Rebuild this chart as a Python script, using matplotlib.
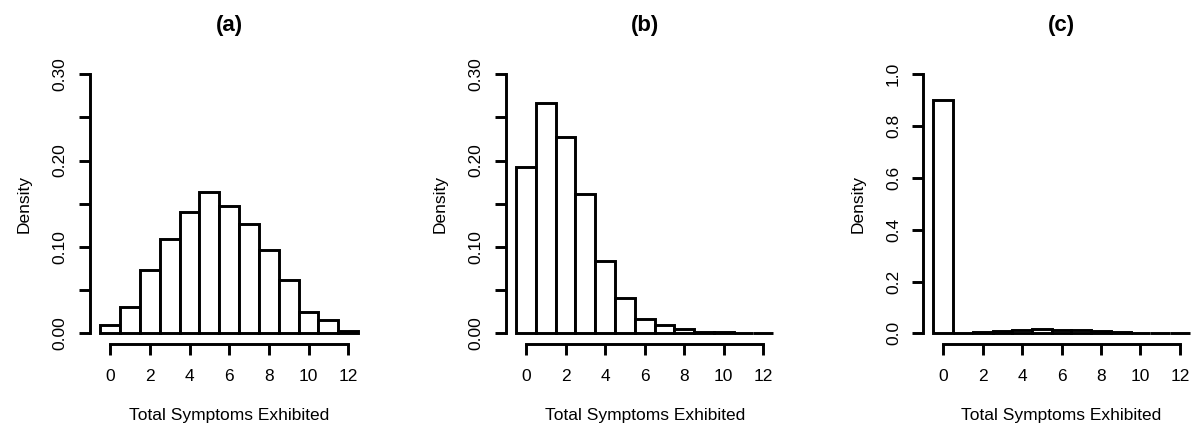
import matplotlib
matplotlib.use("Agg")
import matplotlib.pyplot as plt
import numpy as np

plt.rcParams['font.family'] = ['Liberation Sans', 'DejaVu Sans']

symptoms = list(range(13))  # bins centered on 0..12
density_a = [0.010, 0.031, 0.073, 0.109, 0.140, 0.164, 0.148, 0.127, 0.097, 0.062, 0.025, 0.015, 0.003]
density_b = [0.193, 0.267, 0.227, 0.161, 0.084, 0.041, 0.017, 0.010, 0.005, 0.0015, 0.001, 0.0004, 0.0002]
density_c = [0.899, 0.002, 0.004, 0.008, 0.012, 0.015, 0.014, 0.013, 0.010, 0.005, 0.002, 0.001, 0.0005]

titles = ["(a)", "(b)", "(c)"]
xlabel = "Total Symptoms Exhibited"
ylabel = "Density"
xticks = [0, 2, 4, 6, 8, 10, 12]
yticks_ab = [0.00, 0.05, 0.10, 0.15, 0.20, 0.25, 0.30]
ylabels_ab = ["0.00", "", "0.10", "", "0.20", "", "0.30"]
yticks_c = [0.0, 0.2, 0.4, 0.6, 0.8, 1.0]
ylabels_c = ["0.0", "0.2", "0.4", "0.6", "0.8", "1.0"]

W, H = 1193, 428
fig = plt.figure(figsize=(W / 100, H / 100), dpi=100)

lefts = [90, 505.8, 923.2]
widths = [278.4, 277.7, 276.8]
bottom_px = 343.7
top_px = 63.9

data = [density_a, density_b, density_c]
yt = [yticks_ab, yticks_ab, yticks_c]
yl = [ylabels_ab, ylabels_ab, ylabels_c]
ymax = [0.30, 0.30, 1.0]
lw = 2.1

for i in range(3):
    ax = fig.add_axes([lefts[i] / W, (H - bottom_px) / H, widths[i] / W, (bottom_px - top_px) / H])
    ax.bar(symptoms, data[i], width=1.0, align='center', facecolor='white',
           edgecolor='black', linewidth=lw)
    rng = 13.0
    ax.set_xlim(-0.5 - 0.04 * rng, 12.5 + 0.04 * rng)
    ax.set_ylim(-0.04 * ymax[i], ymax[i] * 1.04)
    for s in ['top', 'right']:
        ax.spines[s].set_visible(False)
    ax.spines['left'].set_bounds(0, ymax[i])
    ax.spines['bottom'].set_bounds(0, 12)
    ax.spines['left'].set_linewidth(lw)
    ax.spines['bottom'].set_linewidth(lw)
    ax.set_xticks(xticks)
    ax.set_xticklabels([str(t) for t in xticks])
    ax.set_yticks(yt[i])
    ax.set_yticklabels(yl[i], rotation=90, va='center')
    ax.tick_params(axis='both', direction='out', length=8, width=lw, labelsize=12.5)
    ax.tick_params(axis='x', pad=10.5)
    ax.tick_params(axis='y', pad=8)
    ax.set_xlabel(xlabel, fontsize=12.5, labelpad=17)
    ax.set_ylabel(ylabel, fontsize=12.5, labelpad=15)
    ax.set_title(titles[i], fontsize=16, fontweight='bold', pad=24)
    ax.patch.set_alpha(0)

fig.savefig("out.png", dpi=100, facecolor='white')
